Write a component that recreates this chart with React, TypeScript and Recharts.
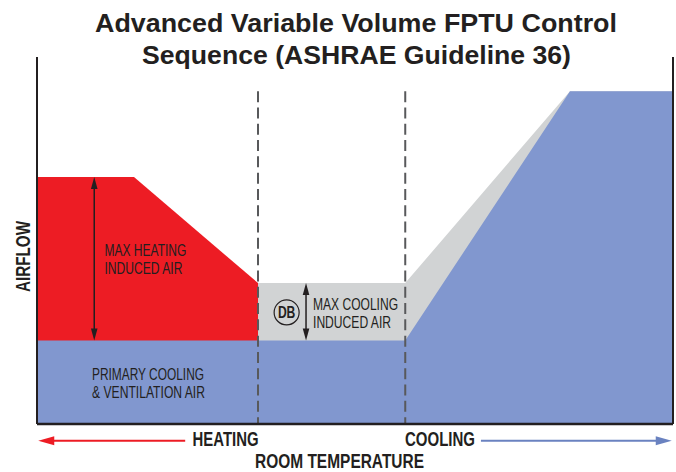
import { Area, ComposedChart, ReferenceDot, ReferenceLine, XAxis, YAxis } from "recharts";

// x and y are both percent of the plot box
const temperature = [0, 15.25, 34.75, 57.9, 83.8, 100];
const primaryAir = [22.75, 22.75, 22.75, 22.75, 90.7, 90.7];
const coolingInduced = [null, null, 38.4, 38.4, 90.7, 90.7];
const heatingInduced = [67.3, 67.3, 38.4, null, null, null];

const deadbandEdges = [34.75, 57.9];
const dashTop = 90.7;

const notes = [
  { x: 10.6, y: 45.8, lines: ["MAX HEATING", "INDUCED AIR"], widths: [82, 78] },
  { x: 8.65, y: 12, lines: ["PRIMARY COOLING", "& VENTILATION AIR"], widths: [112, 113] },
  { x: 43.4, y: 31, lines: ["MAX COOLING", "INDUCED AIR"], widths: [85, 78] },
];

const BLUE = "#8197cf";
const DARK = "#231f20";

const chartData = temperature.map((t, i) => ({
  t,
  primary: primaryAir[i],
  cooling: coolingInduced[i],
  heating: heatingInduced[i],
}));

function DoubleArrow(props: any) {
  const { x1, y1, x2, y2 } = props;
  const top = Math.min(y1, y2);
  const bottom = Math.max(y1, y2);
  return (
    <g fill={DARK}>
      <line x1={x1} x2={x2} y1={top + 6} y2={bottom - 6} stroke={DARK} strokeWidth={1.5} />
      <path d={`M${x1} ${top} l-3.3 12 h6.6 z`} />
      <path d={`M${x1} ${bottom} l-3.3 -12 h6.6 z`} />
    </g>
  );
}

function SideArrow({ color, ...props }: any) {
  const { x1, y1, x2 } = props;
  const dir = x2 > x1 ? 1 : -1;
  return (
    <g>
      <line x1={x1} x2={x2 - dir * 10} y1={y1} y2={y1} stroke={color} strokeWidth={2} />
      <path d={`M${x2} ${y1} l${-dir * 16} -4.5 v9 z`} fill={color} />
    </g>
  );
}

function NoteText({ cx, cy, note }: any) {
  return (
    <g fill={DARK} fontFamily="Liberation Sans" fontSize={16.5}>
      {note.lines.map((line: string, i: number) => (
        <text
          key={line}
          x={cx}
          y={cy + i * 18}
          textLength={note.widths[i]}
          lengthAdjust="spacingAndGlyphs"
        >
          {line}
        </text>
      ))}
    </g>
  );
}

function DbBadge({ cx, cy }: any) {
  return (
    <g>
      <circle cx={cx} cy={cy} r={12.5} fill="none" stroke={DARK} strokeWidth={1.2} />
      <text
        x={cx}
        y={cy + 6}
        textAnchor="middle"
        fill={DARK}
        fontFamily="Liberation Sans"
        fontWeight="bold"
        fontSize={16.5}
        textLength={17.5}
        lengthAdjust="spacingAndGlyphs"
      >
        DB
      </text>
    </g>
  );
}

function BoldLabel({ x, y, width, children, rotate }: any) {
  return (
    <text
      x={x}
      y={y}
      fill={DARK}
      fontFamily="Liberation Sans"
      fontWeight="bold"
      fontSize={19.5}
      textLength={width}
      lengthAdjust="spacingAndGlyphs"
      transform={rotate ? `rotate(-90 ${x} ${y})` : undefined}
    >
      {children}
    </text>
  );
}

export default function App() {
  return (
    <div style={{ position: "absolute", left: 0, top: 0, width: 676, height: 472, background: "#fff" }}>
      <ComposedChart width={676} height={472} data={chartData} margin={{ top: 57, right: 0, bottom: 0, left: 0 }}>
        <XAxis
          dataKey="t"
          type="number"
          domain={[0, 100]}
          height={48}
          tick={false}
          tickLine={false}
          axisLine={{ stroke: DARK, strokeWidth: 2.5 }}
        />
        <YAxis
          type="number"
          domain={[0, 100]}
          width={37}
          tick={false}
          tickLine={false}
          axisLine={{ stroke: DARK, strokeWidth: 2 }}
        />
        <YAxis
          yAxisId="right"
          orientation="right"
          type="number"
          domain={[0, 100]}
          width={3}
          tick={false}
          tickLine={false}
          axisLine={{ stroke: DARK, strokeWidth: 2 }}
        />
        <Area dataKey="cooling" type="linear" stroke="none" fill="#d1d3d4" fillOpacity={1} isAnimationActive={false} />
        <Area dataKey="heating" type="linear" stroke="none" fill="#ed1c24" fillOpacity={1} isAnimationActive={false} />
        <Area dataKey="primary" type="linear" stroke="none" fill={BLUE} fillOpacity={1} isAnimationActive={false} />

        {deadbandEdges.map((x) => (
          <ReferenceLine
            key={x}
            segment={[
              { x, y: dashTop },
              { x, y: 0 },
            ]}
            stroke="#58595b"
            strokeWidth={2}
            strokeDasharray="11 5.3"
          />
        ))}

        <ReferenceLine
          segment={[
            { x: 9, y: 22.75 },
            { x: 9, y: 67.3 },
          ]}
          shape={DoubleArrow}
        />
        <ReferenceLine
          segment={[
            { x: 42.3, y: 22.75 },
            { x: 42.3, y: 38.4 },
          ]}
          shape={DoubleArrow}
        />
        <ReferenceLine
          ifOverflow="visible"
          segment={[
            { x: 23.3, y: -4.55 },
            { x: 0.2, y: -4.55 },
          ]}
          shape={(p: any) => <SideArrow {...p} color="#ed1c24" />}
        />
        <ReferenceLine
          ifOverflow="visible"
          segment={[
            { x: 69.8, y: -4.55 },
            { x: 99.8, y: -4.55 },
          ]}
          shape={(p: any) => <SideArrow {...p} color="#6a82c0" />}
        />

        {notes.map((note) => (
          <ReferenceDot key={note.lines[0]} x={note.x} y={note.y} shape={(p: any) => <NoteText {...p} note={note} />} />
        ))}
        <ReferenceDot x={39.25} y={30.4} shape={DbBadge} />

        <text x={356} y={32} textAnchor="middle" fill={DARK} fontFamily="Liberation Sans" fontWeight="bold" fontSize={26.6} textLength={522} lengthAdjust="spacingAndGlyphs">
          Advanced Variable Volume FPTU Control
        </text>
        <text x={356.5} y={64} textAnchor="middle" fill={DARK} fontFamily="Liberation Sans" fontWeight="bold" fontSize={26.6} textLength={429} lengthAdjust="spacingAndGlyphs">
          Sequence (ASHRAE Guideline 36)
        </text>
        <BoldLabel x={192.5} y={446} width={66}>HEATING</BoldLabel>
        <BoldLabel x={405} y={446} width={70}>COOLING</BoldLabel>
        <BoldLabel x={255} y={468} width={169}>ROOM TEMPERATURE</BoldLabel>
        <BoldLabel x={30} y={292} width={71} rotate>AIRFLOW</BoldLabel>
      </ComposedChart>
    </div>
  );
}
